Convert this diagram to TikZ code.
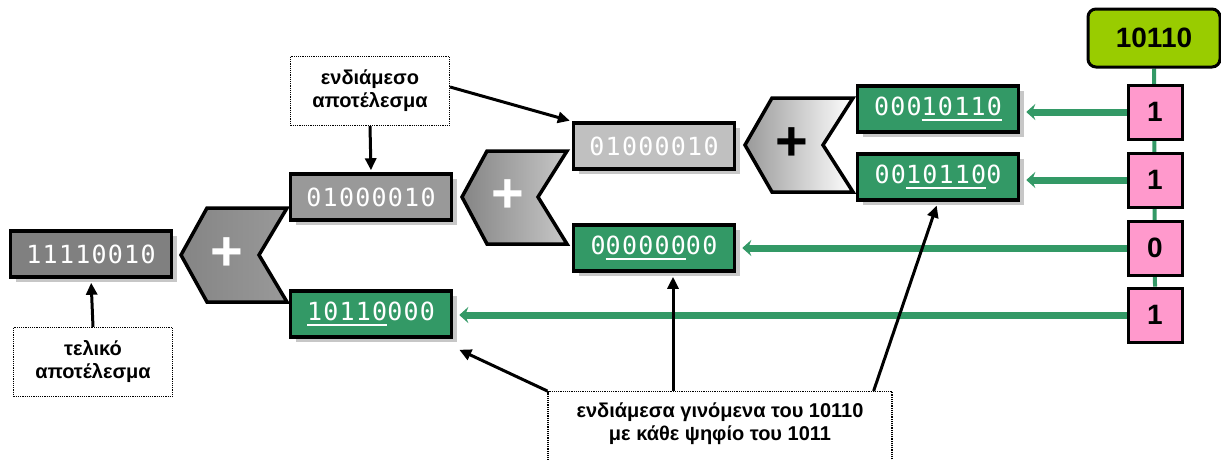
\documentclass[tikz,border=0pt]{standalone}
\usepackage{fontspec}
\setmainfont{Liberation Sans}
\newfontfamily\bitsfont[LetterSpace=5]{DejaVu Sans Mono}
\usetikzlibrary{arrows.meta,shadows,backgrounds}
\definecolor{BitGreen}{RGB}{51,153,102}
\definecolor{BitPink}{RGB}{255,153,204}
\definecolor{BitLime}{RGB}{153,204,0}
\definecolor{DarkBox}{RGB}{128,128,128}
\definecolor{MidBox}{RGB}{153,153,153}
\definecolor{LightBox}{RGB}{192,192,192}
% underlined group of bits
\newcommand{\ubits}[1]{\setbox0\hbox{#1}\rlap{\rule[-6pt]{\wd0}{2.5pt}}\box0\relax}

\begin{document}
\begin{tikzpicture}[x=1pt,y=-1pt]
          \useasboundingbox (0,0) rectangle (1221,459);
          \tikzstyle{bitbox}=[draw, line width=3.5pt, minimum width=161pt, minimum height=46pt,
            inner sep=0pt, text=white, font=\bitsfont\fontsize{25}{28}\selectfont,
            drop shadow={shadow xshift=5pt, shadow yshift=-5pt, fill=black!22, opacity=1}]
          \tikzstyle{digit}=[draw, line width=3pt, fill=BitPink, minimum size=54pt, inner sep=0pt,
            font=\bfseries\fontsize{28}{30}\selectfont]
          \tikzstyle{adder}=[draw, line width=3.5pt, line join=miter]
          \tikzstyle{plus}=[font=\bfseries\fontsize{56}{60}\selectfont, inner sep=0pt]
          \tikzstyle{note}=[draw, densely dotted, line width=1.2pt, align=center, minimum width=159pt,
            minimum height=69pt, font=\bfseries\fontsize{20}{23}\selectfont]
          \tikzstyle{pointer}=[-{Triangle[length=12pt,width=11pt]}, line width=3pt]
          \tikzstyle{feed}=[-{Stealth[length=9pt,width=16pt,inset=3pt]}, line width=7pt, draw=BitGreen]
          % sums
          \node[bitbox, fill=DarkBox] (total) at (91,254) {11110010};
          \node[bitbox, fill=MidBox] (part2) at (371,197) {01000010};
          \node[bitbox, fill=LightBox] (part1) at (654,146) {01000010};
          % partial products
          \node[bitbox, fill=BitGreen] (row1) at (938,109) {000\ubits{10110}};
          \node[bitbox, fill=BitGreen] (row2) at (938,177) {00\ubits{10110}0};
          \node[bitbox, fill=BitGreen] (row3) at (654,248) {0\ubits{00000}00};
          \node[bitbox, fill=BitGreen] (row4) at (371,314) {\ubits{10110}000};
          % adders
          \draw[adder, left color=black!48, right color=black!40]
            (181,255) -- (207,208) -- (287,208) -- (259,255) -- (287,302) -- (207,302) -- cycle;
          \node[plus, text=white] (plus1) at (227,254) {+};
          \draw[adder, left color=black!48, right color=black!22]
            (462,197) -- (487,151) -- (567,151) -- (538,197) -- (567,244) -- (487,244) -- cycle;
          \node[plus, text=white] (plus2) at (508,196) {+};
          \draw[adder, left color=black!40, right color=white]
            (745,145) -- (772,98) -- (853,98) -- (823,145) -- (853,192) -- (772,192) -- cycle;
          \node[plus, text=black] (plus3) at (792,144) {+};
          % multiplicand and multiplier bits
          \node[draw, line width=3pt, rounded corners=8pt, fill=BitLime, minimum width=132pt,
            minimum height=58pt, font=\bfseries\fontsize{28}{30}\selectfont] (mcand) at (1154,38) {10110};
          \node[digit] (bit1) at (1155,112) {1};
          \node[digit] (bit2) at (1155,180) {1};
          \node[digit] (bit3) at (1155,248) {0};
          \node[digit] (bit4) at (1155,315) {1};
          \begin{scope}[on background layer]
            \draw[BitGreen, line width=4pt] (mcand.south) -- (bit4.north);
          \end{scope}
          \draw[feed, shorten >=6pt] (bit1.west) -- (bit1.west -| row1.east);
          \draw[feed, shorten >=6pt] (bit2.west) -- (bit2.west -| row2.east);
          \draw[feed, shorten >=6pt] (bit3.west) -- (bit3.west -| row3.east);
          \draw[feed, shorten >=6pt] (bit4.west) -- (bit4.west -| row4.east);
          % notes
          \node[note] (final) at (93,362) {τελικό\\αποτέλεσμα};
          \node[note] (inter) at (370,91) {ενδιάμεσο\\αποτέλεσμα};
          \node[note, minimum width=344pt, minimum height=0pt, anchor=north, inner ysep=11pt,
            text depth=60pt] (products) at (720,391) {ενδιάμεσα γινόμενα του 10110\\με κάθε ψηφίο του 1011};
          \coordinate (mark3) at ([xshift=19pt]row3.south);
          \draw[pointer, shorten >=4pt] (final.north) -- (total.south);
          \draw[pointer, shorten >=2pt] (inter.south) -- (part2.north);
          \draw[pointer, shorten >=2pt] ([yshift=4pt]inter.east) -- (part1.north west);
          \draw[pointer] (products.north west) -- ([xshift=6pt,yshift=-11pt]row4.south east);
          \draw[pointer, shorten >=4pt] (mark3 |- products.north) -- (mark3);
          \draw[pointer, shorten >=4pt] ([xshift=-19pt]products.north east) -- (row2.south);
        \end{tikzpicture}
\end{document}
